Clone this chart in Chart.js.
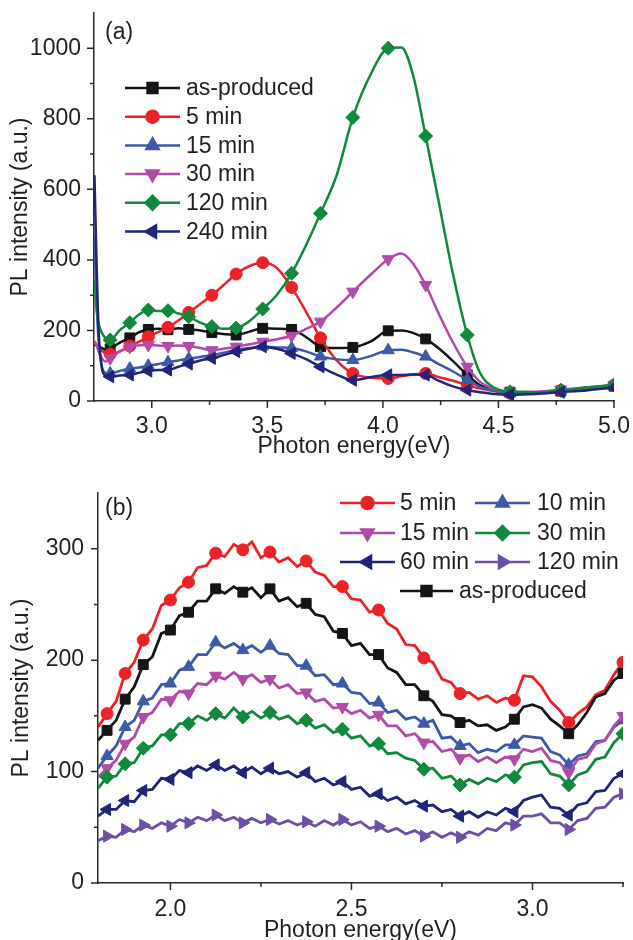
<!DOCTYPE html>
<html>
<head>
<meta charset="utf-8">
<title>PL spectra</title>
<script src="https://cdn.jsdelivr.net/npm/chart.js@4.4.1/dist/chart.umd.min.js"></script>
<style>
  body { margin: 0; background: #fff; width: 633px; height: 940px; overflow: hidden; position: relative; }
  canvas { position: absolute; left: 0; }
  #chartA { top: 0; }
  #chartB { top: 460px; }
</style>
</head>
<body>
<canvas id="chartA" width="633" height="465"></canvas>
<canvas id="chartB" width="633" height="482"></canvas>
<script>
// panel (a)
let energyA = [2.752, 2.76, 2.77, 2.785, 2.80, 2.82, 2.86, 2.905, 2.945, 2.985, 3.03, 3.07, 3.115, 3.16, 3.21, 3.26, 3.31, 3.365, 3.42, 3.48, 3.54, 3.605, 3.67, 3.73, 3.80, 3.87, 3.95, 4.023, 4.08, 4.13, 4.185, 4.24, 4.30, 4.365, 4.42, 4.48, 4.55, 4.66, 4.77, 4.88, 5.0];
let markerA = [2.82, 2.905, 2.985, 3.07, 3.16, 3.26, 3.365, 3.48, 3.605, 3.73, 3.87, 4.023, 4.185, 4.365, 4.55, 4.77, 5.0];
let asProducedA = [160, 158, 155, 150, 145, 148, 165, 179, 195, 203, 205, 202, 206, 203, 200, 194, 190, 187, 196, 206, 205, 203, 180, 154, 150, 152, 170, 199, 200, 193, 176, 150, 115, 74, 45, 30, 25, 24, 28, 35, 42];
let min5A = [165, 160, 150, 142, 135, 133, 140, 156, 168, 182, 196, 209, 228, 251, 275, 300, 328, 360, 382, 392, 378, 322, 250, 179, 115, 78, 66, 64, 70, 75, 78, 68, 58, 45, 35, 28, 22, 25, 30, 38, 45];
let min15A = [470, 300, 170, 95, 80, 78, 85, 92, 95, 100, 105, 110, 115, 120, 125, 130, 137, 145, 150, 155, 152, 150, 140, 126, 118, 116, 128, 144, 145, 138, 126, 105, 85, 60, 40, 30, 22, 24, 30, 36, 42];
let min30A = [170, 160, 140, 120, 112, 121, 140, 154, 158, 159, 157, 156, 157, 156, 150, 144, 148, 154, 160, 168, 175, 185, 205, 225, 265, 310, 360, 402, 418, 390, 329, 250, 170, 97, 55, 35, 26, 26, 32, 38, 45];
let min120A = [340, 270, 220, 192, 178, 173, 200, 222, 245, 258, 255, 256, 248, 239, 222, 211, 205, 207, 225, 261, 300, 362, 445, 532, 640, 804, 930, 1000, 1002, 925, 751, 570, 370, 187, 80, 38, 26, 25, 30, 38, 46];
let min240A = [640, 420, 200, 90, 72, 69, 72, 74, 80, 85, 88, 88, 97, 105, 115, 121, 130, 140, 148, 154, 148, 135, 118, 97, 75, 59, 68, 74, 74, 75, 74, 58, 42, 31, 25, 20, 18, 20, 25, 30, 38];
let xMajorA = [3.0, 3.5, 4.0, 4.5, 5.0];
let xMinorA = [3.25, 3.75, 4.25, 4.75];
let yMajorA = [0, 200, 400, 600, 800, 1000];
let yMinorA = [100, 300, 500, 700, 900];

// panel (b)
let energyB = [1.8, 1.825, 1.85, 1.875, 1.9, 1.925, 1.95, 1.975, 2.0, 2.025, 2.05, 2.075, 2.1, 2.125, 2.15, 2.175, 2.2, 2.225, 2.25, 2.275, 2.3, 2.325, 2.35, 2.375, 2.4, 2.425, 2.45, 2.475, 2.5, 2.525, 2.55, 2.575, 2.6, 2.625, 2.65, 2.675, 2.7, 2.725, 2.75, 2.775, 2.8, 2.825, 2.85, 2.875, 2.9, 2.925, 2.95, 2.975, 3.0, 3.025, 3.05, 3.075, 3.1, 3.125, 3.15, 3.175, 3.2, 3.225, 3.25];
let markerB = [1.825, 1.875, 1.925, 2.0, 2.05, 2.125, 2.2, 2.275, 2.375, 2.475, 2.575, 2.7, 2.8, 2.95, 3.1, 3.25];
let min5B = [140, 152, 163, 188, 198, 218, 228, 249, 254, 265, 270, 283, 285, 296, 293, 304, 299, 306, 292, 297, 288, 292, 284, 289, 279, 276, 266, 266, 255, 254, 243, 245, 233, 228, 214, 213, 202, 198, 183, 180, 170, 171, 165, 168, 162, 166, 164, 186, 185, 176, 163, 155, 144, 152, 158, 169, 173, 187, 198];
let min10B = [103, 114, 123, 140, 146, 163, 166, 178, 179, 191, 194, 205, 205, 216, 211, 215, 209, 213, 207, 213, 206, 205, 195, 195, 186, 187, 178, 179, 171, 170, 161, 162, 153, 155, 147, 149, 143, 146, 130, 131, 123, 125, 117, 120, 118, 124, 124, 132, 131, 130, 118, 115, 106, 114, 116, 127, 128, 140, 146];
let min15B = [95, 103, 110, 125, 131, 149, 153, 165, 164, 172, 170, 179, 178, 186, 183, 189, 183, 187, 180, 183, 175, 178, 170, 171, 163, 165, 157, 158, 152, 155, 148, 151, 141, 141, 132, 134, 126, 127, 118, 120, 112, 115, 109, 113, 108, 113, 111, 120, 118, 121, 110, 108, 99, 111, 113, 125, 128, 141, 150];
let min30B = [85, 95, 96, 107, 108, 121, 123, 133, 133, 143, 143, 150, 146, 152, 148, 157, 149, 154, 148, 153, 147, 150, 143, 146, 139, 142, 135, 138, 130, 132, 123, 125, 116, 117, 112, 110, 102, 103, 94, 96, 88, 93, 89, 94, 91, 97, 95, 106, 108, 109, 98, 96, 88, 97, 100, 111, 113, 126, 134];
let min60B = [60, 66, 66, 74, 73, 83, 84, 94, 93, 101, 99, 105, 101, 106, 101, 105, 99, 104, 98, 103, 98, 100, 95, 99, 91, 94, 88, 91, 84, 86, 78, 80, 74, 77, 71, 74, 69, 70, 64, 66, 60, 64, 59, 64, 61, 67, 64, 74, 77, 79, 68, 67, 61, 70, 72, 82, 83, 94, 98];
let min120B = [38, 42, 41, 48, 46, 52, 49, 54, 51, 57, 54, 59, 56, 61, 56, 59, 54, 58, 54, 57, 53, 56, 52, 55, 51, 56, 52, 57, 52, 55, 49, 51, 46, 49, 44, 47, 42, 46, 41, 45, 41, 46, 43, 49, 47, 54, 52, 60, 60, 62, 54, 54, 48, 56, 58, 67, 68, 77, 80];
let asProducedB = [128, 137, 146, 165, 176, 196, 203, 224, 227, 240, 243, 253, 253, 264, 260, 266, 261, 265, 256, 264, 253, 256, 248, 251, 241, 239, 226, 224, 213, 215, 205, 205, 193, 189, 178, 178, 168, 163, 151, 150, 144, 146, 141, 142, 137, 140, 147, 158, 160, 157, 147, 141, 134, 142, 153, 167, 170, 182, 188];
let xMajorB = [2.0, 2.5, 3.0];
let xMinorB = [2.25, 2.75, 3.25];
let yMajorB = [0, 100, 200, 300];
let yMinorB = [50, 150, 250];

const FONT = '"Liberation Sans", Arial, sans-serif';
const TEXT = '#231f20';
const AXIS = '#2b2b2b';
const colors = {
  black: '#151515',
  red: '#ec2227',
  blue: '#3b5aaa',
  magenta: '#b24aa9',
  green: '#10893d',
  navy: '#20257a',
  purple: '#6e4fa8',
};

function isMarker(x, list) {
  return list.some(m => Math.abs(m - x) < 1e-6);
}

function makeSet(label, xs, ys, color, style, rot, radius, markers, smooth) {
  return {
    label: label,
    data: xs.map((x, i) => ({ x: x, y: ys[i] })),
    borderColor: color,
    backgroundColor: color,
    borderWidth: smooth ? 2.5 : 2.8,
    pointStyle: style,
    pointRotation: rot,
    pointRadius: ctx => (ctx.raw && isMarker(ctx.raw.x, markers) ? radius : 0),
    pointHoverRadius: 0,
    pointBorderWidth: 1,
    pointBackgroundColor: color,
    pointBorderColor: color,
    cubicInterpolationMode: smooth ? 'monotone' : 'default',
    tension: 0,
  };
}

// minor/major tick marks drawn outward, through the chart's scales
const tickMarks = {
  id: 'tickMarks',
  afterDraw(chart, args, opts) {
    let ctx = chart.ctx;
    let area = chart.chartArea;
    let sx = chart.scales.x;
    let sy = chart.scales.y;
    ctx.save();
    ctx.strokeStyle = AXIS;
    ctx.lineWidth = 1.5;
    ctx.beginPath();
    opts.xMajor.forEach(v => {
      let p = sx.getPixelForValue(v);
      ctx.moveTo(p, area.bottom);
      ctx.lineTo(p, area.bottom + 7);
    });
    opts.xMinor.forEach(v => {
      let p = sx.getPixelForValue(v);
      ctx.moveTo(p, area.bottom);
      ctx.lineTo(p, area.bottom + 4);
    });
    opts.yMajor.forEach(v => {
      let p = sy.getPixelForValue(v);
      ctx.moveTo(area.left, p);
      ctx.lineTo(area.left - 7, p);
    });
    opts.yMinor.forEach(v => {
      let p = sy.getPixelForValue(v);
      ctx.moveTo(area.left, p);
      ctx.lineTo(area.left - 4, p);
    });
    ctx.stroke();
    ctx.restore();
  },
};

// legend with line + marker, placed like the original
const sketchLegend = {
  id: 'sketchLegend',
  afterDraw(chart, args, opts) {
    let ctx = chart.ctx;
    ctx.save();
    opts.items.forEach(item => {
      let ds = chart.data.datasets[item.index];
      ctx.strokeStyle = ds.borderColor;
      ctx.fillStyle = ds.borderColor;
      ctx.lineWidth = 2.5;
      ctx.beginPath();
      ctx.moveTo(item.x1, item.y);
      ctx.lineTo(item.x2, item.y);
      ctx.stroke();
      Chart.helpers.drawPoint(ctx, {
        pointStyle: ds.pointStyle,
        rotation: ds.pointRotation,
        radius: opts.radius[item.index],
        borderWidth: 1,
      }, (item.x1 + item.x2) / 2, item.y);
      ctx.fillStyle = TEXT;
      ctx.font = '23px ' + FONT;
      ctx.textBaseline = 'middle';
      ctx.textAlign = 'left';
      ctx.fillText(ds.label, item.tx, item.y + 1);
    });
    ctx.font = '23px ' + FONT;
    ctx.fillStyle = TEXT;
    ctx.textBaseline = 'middle';
    ctx.fillText(opts.tag.text, opts.tag.x, opts.tag.y);
    ctx.restore();
  },
};

function axisOptions(cfg) {
  return {
    x: {
      type: 'linear',
      min: cfg.xMin,
      max: cfg.xMax,
      afterBuildTicks: s => { s.ticks = cfg.xMajor.map(v => ({ value: v })); },
      afterFit: s => {
        s.height = cfg.xHeight;
        s.paddingLeft = 0; s.paddingRight = 0; s.paddingTop = 0; s.paddingBottom = 0;
      },
      grid: { display: false, drawTicks: false },
      border: { display: true, color: AXIS, width: 1.5 },
      ticks: {
        color: TEXT,
        font: { family: FONT, size: 23 },
        padding: cfg.xPad,
        maxRotation: 0,
        autoSkip: false,
        callback: v => Number(v).toFixed(1),
      },
      title: {
        display: true,
        text: 'Photon energy(eV)',
        color: TEXT,
        font: { family: FONT, size: 23, lineHeight: 1 },
        padding: { top: 0, bottom: cfg.xTitlePad },
      },
    },
    y: {
      type: 'linear',
      min: cfg.yMin,
      max: cfg.yMax,
      afterBuildTicks: s => { s.ticks = cfg.yMajor.map(v => ({ value: v })); },
      afterFit: s => {
        s.width = cfg.yWidth;
        s.paddingLeft = 0; s.paddingRight = 0; s.paddingTop = 0; s.paddingBottom = 0;
      },
      grid: { display: false, drawTicks: false },
      border: { display: true, color: AXIS, width: 1.5 },
      ticks: {
        color: TEXT,
        font: { family: FONT, size: 23 },
        padding: cfg.yPad,
        autoSkip: false,
        callback: v => String(v),
      },
      title: {
        display: true,
        text: 'PL intensity (a.u.)',
        color: TEXT,
        font: { family: FONT, size: 23, lineHeight: 1 },
        padding: { top: cfg.yTitlePad, bottom: 0 },
      },
    },
  };
}

function sortOrder(sets) {
  sets.forEach((s, i) => { s.order = sets.length - i; });
  return sets;
}

let setsA = sortOrder([
  makeSet('as-produced', energyA, asProducedA, colors.black, 'rect', 0, 7, markerA, true),
  makeSet('5 min', energyA, min5A, colors.red, 'circle', 0, 6, markerA, true),
  makeSet('15 min', energyA, min15A, colors.blue, 'triangle', 0, 7, markerA, true),
  makeSet('30 min', energyA, min30A, colors.magenta, 'triangle', 180, 7, markerA, true),
  makeSet('120 min', energyA, min120A, colors.green, 'rectRot', 0, 7, markerA, true),
  makeSet('240 min', energyA, min240A, colors.navy, 'triangle', 270, 7, markerA, true),
]);

let legendA = setsA.map((s, i) => ({ index: i, x1: 125, x2: 180, tx: 186, y: 88 + i * 28.7 }));

new Chart(document.getElementById('chartA'), {
  type: 'line',
  data: { datasets: setsA },
  options: {
    responsive: false,
    animation: false,
    events: [],
    layout: { padding: { left: 0, right: 19, top: 13, bottom: 0 } },
    scales: axisOptions({
      xMin: 2.75, xMax: 5.0, xMajor: xMajorA, xHeight: 64, xPad: 12, xTitlePad: 7,
      yMin: 0, yMax: 1100, yMajor: yMajorA, yWidth: 94, yPad: 13, yTitlePad: 9,
    }),
    plugins: {
      legend: { display: false },
      tooltip: { enabled: false },
      tickMarks: { xMajor: xMajorA, xMinor: xMinorA, yMajor: yMajorA, yMinor: yMinorA },
      sketchLegend: {
        items: legendA,
        radius: [7, 6, 7, 7, 7, 7],
        tag: { text: '(a)', x: 105, y: 33 },
      },
    },
  },
  plugins: [tickMarks, sketchLegend],
});

let setsB = sortOrder([
  makeSet('5 min', energyB, min5B, colors.red, 'circle', 0, 6, markerB, false),
  makeSet('10 min', energyB, min10B, colors.blue, 'triangle', 0, 7, markerB, false),
  makeSet('15 min', energyB, min15B, colors.magenta, 'triangle', 180, 7, markerB, false),
  makeSet('30 min', energyB, min30B, colors.green, 'rectRot', 0, 7, markerB, false),
  makeSet('60 min', energyB, min60B, colors.navy, 'triangle', 270, 7, markerB, false),
  makeSet('120 min', energyB, min120B, colors.purple, 'triangle', 90, 7, markerB, false),
  makeSet('as-produced', energyB, asProducedB, colors.black, 'rect', 0, 7, markerB, false),
]);

let legendB = [
  { index: 0, x1: 340, x2: 395, tx: 400, y: 43 },
  { index: 1, x1: 475, x2: 530, tx: 537, y: 43 },
  { index: 2, x1: 340, x2: 395, tx: 400, y: 73 },
  { index: 3, x1: 475, x2: 530, tx: 537, y: 73 },
  { index: 4, x1: 340, x2: 395, tx: 400, y: 102 },
  { index: 5, x1: 475, x2: 530, tx: 537, y: 102 },
  { index: 6, x1: 400, x2: 453, tx: 459, y: 131 },
];

new Chart(document.getElementById('chartB'), {
  type: 'line',
  data: { datasets: setsB },
  options: {
    responsive: false,
    animation: false,
    events: [],
    layout: { padding: { left: 0, right: 10, top: 33, bottom: 0 } },
    scales: axisOptions({
      xMin: 1.8, xMax: 3.25, xMajor: xMajorB, xHeight: 59, xPad: 13, xTitlePad: 0,
      yMin: 0, yMax: 350, yMajor: yMajorB, yWidth: 98, yPad: 14, yTitlePad: 10,
    }),
    plugins: {
      legend: { display: false },
      tooltip: { enabled: false },
      tickMarks: { xMajor: xMajorB, xMinor: xMinorB, yMajor: yMajorB, yMinor: yMinorB },
      sketchLegend: {
        items: legendB,
        radius: [6, 7, 7, 7, 7, 7, 7],
        tag: { text: '(b)', x: 105, y: 49 },
      },
    },
  },
  plugins: [tickMarks, sketchLegend],
});
</script>
</body>
</html>
